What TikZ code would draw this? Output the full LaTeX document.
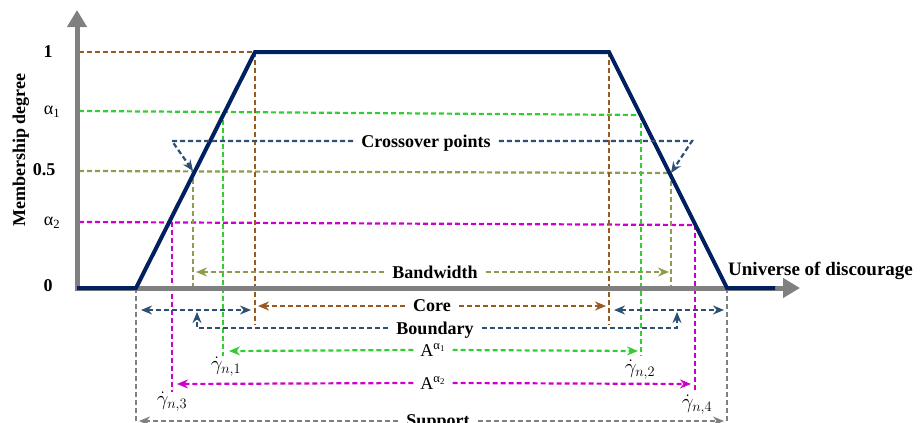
\documentclass[tikz,border=0pt]{standalone}
\usepackage{fontspec}
\setmainfont{Liberation Serif}
\usetikzlibrary{arrows.meta}
\definecolor{curvenavy}{HTML}{002060}
\definecolor{axisgray}{HTML}{808080}
\definecolor{corebrown}{HTML}{985A1F}
\definecolor{alphagreen}{HTML}{33CC33}
\definecolor{bandolive}{HTML}{8E9C4E}
\definecolor{alphamag}{HTML}{CC00CC}
\definecolor{crossblue}{HTML}{2D5072}
\begin{document}
\begin{tikzpicture}[x=1pt,y=-1pt,
  dl/.style={line width=2.2pt, dash pattern=on 5pt off 3pt},
  tip/.style={-{Stealth[length=11pt,width=9pt]}},
  dtip/.style={{Stealth[length=11pt,width=9pt]}-{Stealth[length=11pt,width=9pt]}},
  lbl/.style={font=\fontsize{18}{20}\selectfont\bfseries, inner ysep=0pt, inner xsep=8pt, text depth=0pt},
  reg/.style={font=\fontsize{18}{20}\selectfont, inner sep=0pt},
  gam/.style={font=\fontsize{20}{22}\selectfont, inner sep=0pt},
]
\useasboundingbox (0,0) rectangle (921,423);

% key points
\coordinate (O) at (77,288);
\coordinate (ytop) at (77,10);
\coordinate (xend) at (800,288);
\coordinate (L0) at (136,288);
\coordinate (L1) at (255,52);
\coordinate (R1) at (609,52);
\coordinate (R0) at (727,288);
\coordinate (E) at (775,288);
\coordinate (pa1) at (223,112);
\coordinate (qa1) at (641,115);
\coordinate (pb) at (193,171);
\coordinate (qb) at (671,173);
\coordinate (pa2) at (172,222);
\coordinate (qa2) at (695,225);
\coordinate (suprow) at (0,421);

% horizontal level lines
\draw[corebrown,dl] (79,52) -- (L1);
\draw[alphagreen,dl] (79,111) -- (qa1);
\draw[bandolive,dl] (79,171) -- (qb);
\draw[alphamag,dl] (79,222) -- (qa2);

% vertical lines
\draw[corebrown,dl] (L1) -- (255,325);
\draw[corebrown,dl] (R1) -- (609,325);
\draw[alphagreen,dl] (pa1) -- (223,356);
\draw[alphagreen,dl] (qa1) -- (641,356);
\draw[bandolive,dl] (pb) -- (193,288);
\draw[bandolive,dl] (qb) -- (671,288);
\draw[alphamag,dl] (pa2) -- (172,392);
\draw[alphamag,dl] (qa2) -- (695,392);
\draw[axisgray,dl] (L0) -- (136,423);
\draw[axisgray,dl] (R0) -- (727,423);

% axes
\draw[axisgray,line width=5pt,-{Triangle[length=17pt,width=19pt]}] (77,290.5) -- (ytop);
\draw[axisgray,line width=5pt,-{Triangle[length=17pt,width=19pt]}] (74.5,288) -- (xend);

% membership function
\draw[curvenavy,line width=4pt] (O) -- (L0) -- (L1) -- (R1) -- (R0) -- (E);

% axis labels
\node[lbl,inner xsep=0pt,rotate=90] (ylab) at (19,150) {Membership degree};
\node[lbl,inner xsep=0pt,font=\fontsize{19}{21}\selectfont\bfseries,anchor=west] (xlab) at (728,269) {Universe of discourage};
\node[lbl,inner xsep=0pt] (t1) at (48,52) {1};
\node[reg] (ta1) at (52,112) {α\textsubscript{1}};
\node[lbl,inner xsep=0pt] (t05) at (44,170) {0.5};
\node[reg] (ta2) at (52,223) {α\textsubscript{2}};
\node[lbl,inner xsep=0pt] (t0) at (48,286) {0};

% crossover points
\node[lbl] (cross) at (426,141) {Crossover points};
\draw[crossblue,dl,tip] (cross.west) -- (172,141) -- (pb);
\draw[crossblue,dl,tip] (cross.east) -- (692,141) -- (qb);

% bandwidth
\node[lbl] (band) at (435,272) {Bandwidth};
\draw[bandolive,dl,tip] (band.west) -- (196,272);
\draw[bandolive,dl,tip] (band.east) -- (669,272);

% core
\node[lbl] (core) at (432,306) {Core};
\draw[corebrown,dl,tip] (core.west) -- (258,306);
\draw[corebrown,dl,tip] (core.east) -- (606,306);

% boundary
\coordinate (bl1) at (141,310);
\coordinate (bl2) at (251,310);
\coordinate (br1) at (614,310);
\coordinate (br2) at (724,310);
\draw[crossblue,dl,dtip] (bl1) -- (bl2);
\draw[crossblue,dl,dtip] (br1) -- (br2);
\node[lbl] (bound) at (435,328) {Boundary};
\draw[crossblue,dl,tip] (bound.west) -- (197,328) -- (197,312);
\draw[crossblue,dl,tip] (bound.east) -- (677,328) -- (677,312);

% alpha cuts
\node[reg,inner xsep=7pt] (aa1) at (433,350) {A\textsuperscript{α\textsubscript{1}}};
\draw[alphagreen,dl,tip] (aa1.west) -- (229,351);
\draw[alphagreen,dl,tip] (aa1.east) -- (638,351);
\node[gam] (g1) at (226,367) {$\dot{\gamma}_{n,1}$};
\node[gam] (g2) at (640,370) {$\dot{\gamma}_{n,2}$};

\node[reg,inner xsep=7pt] (aa2) at (433,383) {A\textsuperscript{α\textsubscript{2}}};
\draw[alphamag,dl,tip] (aa2.west) -- (177,384);
\draw[alphamag,dl,tip] (aa2.east) -- (691,384);
\node[gam] (g3) at (172,402) {$\dot{\gamma}_{n,3}$};
\node[gam] (g4) at (697,405) {$\dot{\gamma}_{n,4}$};

% support
\node[lbl,anchor=base] (sup) at (438,426) {Support};
\draw[axisgray,dl,tip] (sup.west |- suprow) -- (139,421);
\draw[axisgray,dl,tip] (sup.east |- suprow) -- (724,421);
\end{tikzpicture}
\end{document}
